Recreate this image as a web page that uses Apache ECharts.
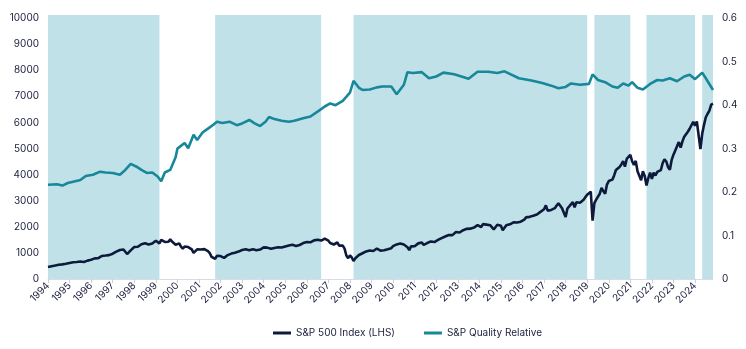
<!DOCTYPE html>
<html><head><meta charset="utf-8">
<script src="https://cdn.jsdelivr.net/npm/echarts@6/dist/echarts.min.js"></script>
<style>html,body{margin:0;padding:0;background:#fff}#c{width:746px;height:349px}</style>
</head><body><div id="c"></div>
<script>
// Tick labels on the x axis
const yearTicks = [1994,1995,1996,1997,1998,1999,2000,2001,2002,2003,2004,2005,2006,2007,2008,2009,2010,2011,2012,2013,2014,2015,2016,2017,2018,2019,2020,2021,2022,2023,2024];
const leftTicks = [0,1000,2000,3000,4000,5000,6000,7000,8000,9000,10000];
const rightTicks = [0,0.1,0.2,0.3,0.4,0.5,0.6];

// S&P 500 Index (LHS), monthly, first point at spxStart
const spxStart = '1994-01';
const spxMonthly = [
 459,
 470,487,501,515,533,545,562,562,584,582,605,616,
 636,640,646,654,669,671,640,652,687,705,757,741,
 786,791,757,801,848,885,954,899,947,915,955,970,
 980,1049,1102,1112,1091,1134,1121,957,1017,1099,1164,1229,
 1280,1238,1286,1335,1302,1373,1329,1320,1283,1363,1389,1469,
 1394,1366,1499,1452,1421,1455,1431,1518,1437,1429,1315,1320,
 1366,1240,1160,1249,1256,1224,1211,1134,1000,1060,1139,1148,
 1130,1107,1147,1077,1067,990,850,916,776,886,936,880,
 856,810,848,917,964,975,990,1008,996,1051,1058,1112,
 1131,1145,1126,1107,1121,1141,1102,1104,1115,1130,1174,1212,
 1181,1204,1181,1157,1192,1191,1234,1220,1229,1207,1249,1248,
 1280,1281,1295,1311,1270,1270,1277,1304,1336,1378,1401,1418,
 1438,1407,1421,1482,1531,1503,1455,1474,1527,1549,1481,1468,
 1379,1331,1323,1386,1400,1280,1267,1283,1166,900,800,903,
 826,690,798,873,919,919,987,1021,1057,1036,1096,1115,
 1074,1104,1169,1187,1089,1031,1102,1049,1141,1183,1181,1258,
 1286,1327,1326,1364,1345,1321,1292,1219,1110,1253,1247,1258,
 1312,1366,1408,1398,1310,1362,1379,1407,1441,1412,1416,1426,
 1498,1515,1569,1598,1631,1606,1686,1633,1682,1757,1806,1848,
 1783,1859,1872,1884,1924,1960,1931,2003,1972,2018,2068,2059,
 1995,2105,2068,2086,2107,2063,2104,1900,1920,2079,2080,2044,
 1870,1932,2060,2065,2097,2099,2174,2171,2168,2126,2199,2239,
 2279,2364,2363,2384,2412,2423,2470,2472,2519,2575,2648,2674,
 2824,2620,2641,2648,2705,2718,2816,2902,2914,2712,2760,2380,
 2704,2784,2834,2946,2752,2942,2980,2926,2977,3038,3141,3231,
 3226,3350,2237,2912,3044,3100,3271,3500,3363,3270,3622,3756,
 3714,3811,3973,4181,4204,4298,4395,4523,4308,4605,4567,4766,
 4516,4374,4530,4132,4132,3785,4130,3955,3586,3872,4080,3840,
 4077,3970,4109,4169,4180,4450,4589,4508,4288,4194,4568,4770,
 4846,5096,5254,5036,5278,5460,5522,5648,5762,5705,6032,5882,
 6041,6100,4982,5569,5912,6205,6339,6460,6688,6720
];

// S&P Quality Relative (RHS)
const qualityMonths = ['1994-01','1994-06','1994-09','1994-12','1995-03','1995-07','1995-10','1996-02','1996-06','1996-09',
 '1997-01','1997-05','1997-08','1997-11','1998-02','1998-05','1998-08','1998-11','1999-02','1999-04','1999-06','1999-09','1999-12',
 '2000-01','2000-05','2000-07','2000-10','2000-12','2001-03','2001-06','2001-09','2001-11','2002-02','2002-06','2002-10',
 '2003-01','2003-05','2003-08','2003-11','2004-02','2004-04','2004-07','2004-11','2005-03','2005-06','2005-11',
 '2006-03','2006-08','2006-11','2007-02','2007-05','2007-09','2008-01','2008-03','2008-06','2008-08','2008-12',
 '2009-04','2009-07','2009-12','2010-03','2010-07','2010-09','2010-12','2011-05','2011-09','2012-01','2012-05','2012-11',
 '2013-07','2013-12','2014-06','2014-11','2015-03','2015-11','2016-06','2016-12','2017-05','2017-09','2018-01','2018-04','2018-09',
 '2019-02','2019-04','2019-07','2019-11','2020-03','2020-06','2020-09','2020-12','2021-02','2021-05','2021-08','2021-12',
 '2022-04','2022-07','2022-11','2023-03','2023-07','2023-10','2024-01','2024-05','2024-07','2024-11'];
const qualityValues = [0.217,0.218,0.215,0.221,0.224,0.228,0.237,0.240,0.247,0.245,
 0.244,0.240,0.251,0.265,0.259,0.251,0.244,0.245,0.236,0.225,0.245,0.251,0.280,
 0.300,0.313,0.301,0.332,0.320,0.337,0.346,0.355,0.362,0.359,0.362,0.354,
 0.358,0.366,0.358,0.352,0.362,0.373,0.368,0.364,0.362,0.364,0.370,
 0.374,0.388,0.397,0.404,0.400,0.410,0.429,0.456,0.440,0.435,0.436,
 0.441,0.443,0.443,0.425,0.447,0.476,0.474,0.476,0.462,0.466,0.475,0.471,
 0.461,0.477,0.477,0.474,0.478,0.462,0.457,0.451,0.445,0.439,0.442,0.450,0.447,
 0.449,0.471,0.458,0.453,0.443,0.440,0.450,0.445,0.453,0.440,0.436,0.449,
 0.458,0.457,0.462,0.455,0.466,0.470,0.460,0.475,0.462,0.435];

// Shaded periods
const shadedStart = ['1994-01','2001-10','2008-03','2019-05','2021-10','2024-05'];
const shadedEnd   = ['1999-03','2006-09','2019-01','2021-01','2024-01','2024-11'];

const FONT = "Inter, 'Open Sans', sans-serif";
const TXT = '#1b1f3b';
const NAVY = '#0e1a3c';
const TEAL = '#17879a';
const BAND = '#c0e1e8';

const toYear = s => { const p = s.split('-').map(Number); return p[0] + (p[1]-1)/12; };
const s0 = toYear(spxStart);
const spxData = spxMonthly.map((v,i) => [s0 + i/12, v]);
const qualityData = qualityMonths.map((m,i) => [toYear(m), qualityValues[i]]);
const xMax = spxData[spxData.length-1][0];
const bands = shadedStart.map((s,i) => [{xAxis: toYear(s)}, {xAxis: toYear(shadedEnd[i])}]);

const chart = echarts.init(document.getElementById('c'), null, {renderer:'canvas'});
chart.setOption({
  animation:false,
  textStyle:{fontFamily:FONT},
  grid:{left:48, right:33, top:15, bottom:70},
  legend:{
    data:[{name:'S&P 500 Index (LHS)', icon:'rect'},{name:'S&P Quality Relative', icon:'rect'}],
    left:268, top:323, itemWidth:18, itemHeight:3, itemGap:29,
    textStyle:{fontSize:10, color:TXT, fontFamily:FONT}
  },
  xAxis:{
    type:'value', min:yearTicks[0], max:xMax,
    axisLine:{show:true, lineStyle:{color:'#d8dce6', width:1}},
    axisTick:{show:true, customValues:yearTicks, length:4, lineStyle:{color:'#c9cedc'}},
    axisLabel:{customValues:yearTicks, rotate:45, fontSize:10, color:TXT, margin:5, formatter:v=>String(v)},
    splitLine:{show:false}
  },
  yAxis:[
    {type:'value', min:0, max:10126, interval:1000,
     axisLine:{show:false}, axisTick:{show:false}, splitLine:{show:false},
     axisLabel:{customValues:leftTicks, fontSize:10, color:TXT, margin:9, formatter:v=>String(v)}},
    {type:'value', min:0, max:0.60756, interval:0.1, position:'right',
     axisLine:{show:false}, axisTick:{show:false}, splitLine:{show:false},
     axisLabel:{customValues:rightTicks, fontSize:10, color:TXT, margin:9, formatter:v=>String(Math.round(v*10)/10)}}
  ],
  series:[
    {name:'bands', type:'line', data:[], z:1, silent:true,
     markArea:{silent:true, itemStyle:{color:BAND}, data:bands}},
    {name:'S&P 500 Index (LHS)', type:'line', yAxisIndex:0, data:spxData, showSymbol:false, z:3,
     lineStyle:{width:2.6, color:NAVY}, itemStyle:{color:NAVY}},
    {name:'S&P Quality Relative', type:'line', yAxisIndex:1, data:qualityData, showSymbol:false, z:3,
     lineStyle:{width:2.6, color:TEAL}, itemStyle:{color:TEAL}}
  ]
});
</script></body></html>
